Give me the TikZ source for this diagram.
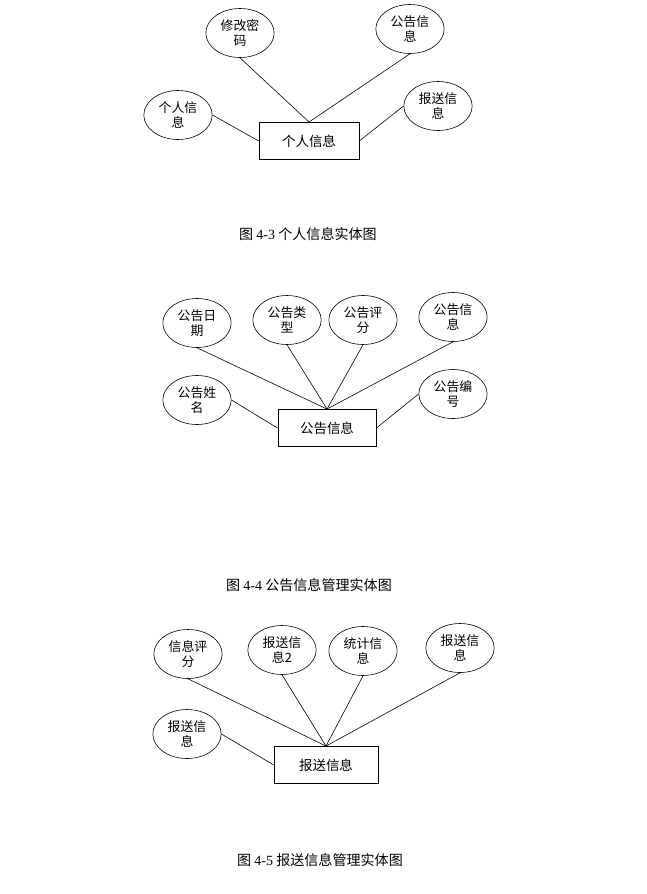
\documentclass[tikz,border=0pt]{standalone}
\usepackage{fontspec}
\setmainfont{Noto Sans CJK SC}
\newfontfamily\numfont{Liberation Serif}
\usetikzlibrary{shapes.geometric}
\tikzset{
  attrnode/.style={draw, ellipse, minimum width=2.05cm, minimum height=1.47cm,
                   inner sep=0pt, align=center,
                   font=\fontsize{11}{12.8}\selectfont},
  entbox/.style={draw, rectangle, minimum width=3cm, minimum height=1.12cm,
                 font=\fontsize{11.5}{13}\selectfont},
  figcap/.style={font=\fontsize{12}{14}\selectfont},
  link/.style={line width=0.5pt}
}

\begin{document}
\begin{tikzpicture}[x=0.03cm, y=-0.03cm, line width=0.5pt]
  \useasboundingbox (0,0) rectangle (647,894);
  % Personal info
  \node[entbox] (user) at (309,141) {个人信息};
  \foreach \n/\x/\y/\t in {chpwd/240/33/{修改密\\码}, unotice/410/29/{公告信\\息}}{
    \node[attrnode] (\n) at (\x,\y) {\t};
    \draw[link] (\n.south) -- (user.north);
  }
  \node[attrnode] (uinfo) at (178,115) {个人信\\息};
  \node[attrnode] (ureport) at (438,106) {报送信\\息};
  \draw[link] (uinfo.east) -- (user.west);
  \draw[link] (ureport.west) -- (user.east);
  \node[figcap] (cap1) at (308,234) {图 {\numfont 4-3} 个人信息实体图};

  % Notice management
  \node[entbox, minimum width=2.95cm] (notice) at (327,428) {公告信息};
  \foreach \n/\x/\y/\t in {ndate/197/323/{公告日\\期}, ntype/287/320/{公告类\\型},
                           nscore/363/320/{公告评\\分}, ninfo/453/317/{公告信\\息}}{
    \node[attrnode] (\n) at (\x,\y) {\t};
    \draw[link] (\n.south) -- (notice.north);
  }
  \node[attrnode] (nname) at (197,400) {公告姓\\名};
  \node[attrnode] (nno) at (453,394) {公告编\\号};
  \draw[link] (nname.east) -- (notice.west);
  \draw[link] (nno.west) -- (notice.east);
  \node[figcap] (cap2) at (309,585) {图 {\numfont 4-4} 公告信息管理实体图};

  % Report management
  \node[entbox, minimum width=3.12cm] (report) at (326,765) {报送信息};
  \foreach \n/\x/\y/\t in {rscore/188/654/{信息评\\分}, rinfo2/282/650/{报送信\\息2},
                           rstat/363/651/{统计信\\息}, rsend/460/648/{报送信\\息}}{
    \node[attrnode] (\n) at (\x,\y) {\t};
    \draw[link] (\n.south) -- (report.north);
  }
  \node[attrnode] (rinfo) at (187,734) {报送信\\息};
  \draw[link] (rinfo.east) -- (report.west);
  \node[figcap] (cap3) at (320,860) {图 {\numfont 4-5} 报送信息管理实体图};
\end{tikzpicture}
\end{document}
